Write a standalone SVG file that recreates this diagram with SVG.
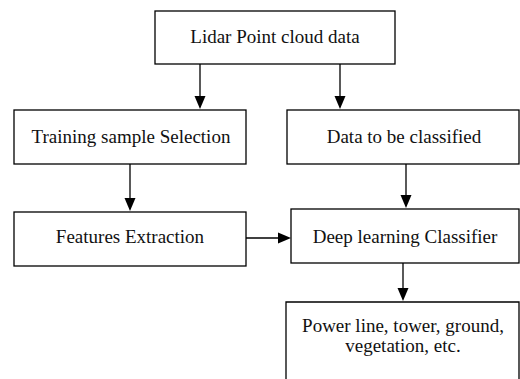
<svg xmlns="http://www.w3.org/2000/svg" width="520" height="379" viewBox="0 0 520 379">
<style>
.box{fill:#fff;stroke:#000;stroke-width:1.3}
.t{font-family:"Liberation Serif","Times New Roman",serif;font-size:19px;fill:#111;text-anchor:middle}
.c{stroke:#000;stroke-width:1.3;fill:none}
.ah{fill:#000}
</style>
<rect width="520" height="379" fill="#fff"/>
<g id="connectors">
<line class="c" x1="200" y1="64" x2="200" y2="97"/>
<polygon class="ah" points="194.5,96 205.5,96 200,109"/>
<line class="c" x1="340" y1="64" x2="340" y2="97"/>
<polygon class="ah" points="334.5,96 345.5,96 340,109"/>
<line class="c" x1="130" y1="164" x2="130" y2="199"/>
<polygon class="ah" points="124.5,198 135.5,198 130,211"/>
<line class="c" x1="406" y1="164" x2="406" y2="196"/>
<polygon class="ah" points="400.5,195 411.5,195 406,208"/>
<line class="c" x1="246" y1="238" x2="279" y2="238"/>
<polygon class="ah" points="278,232.5 278,243.5 291,238"/>
<line class="c" x1="403" y1="263" x2="403" y2="289"/>
<polygon class="ah" points="397.5,288 408.5,288 403,301"/>
</g>
<g id="lidar">
<rect class="box" x="155" y="11" width="240" height="53"/>
<text class="t" x="275" y="43">Lidar Point cloud data</text>
</g>
<g id="training">
<rect class="box" x="14" y="110" width="232" height="54"/>
<text class="t" x="131" y="143">Training sample Selection</text>
</g>
<g id="data">
<rect class="box" x="287" y="110" width="232" height="54"/>
<text class="t" x="404" y="143">Data to be classified</text>
</g>
<g id="features">
<rect class="box" x="14" y="212" width="232" height="54"/>
<text class="t" x="130" y="243">Features Extraction</text>
</g>
<g id="classifier">
<rect class="box" x="291" y="209" width="228" height="54"/>
<text class="t" x="405" y="243">Deep learning Classifier</text>
</g>
<g id="output">
<path class="c" d="M286,380 V302 H519 V380" style="fill:#fff"/>
<text class="t" x="403" y="332">Power line, tower, ground,</text>
<text class="t" x="403" y="352">vegetation, etc.</text>
</g>
</svg>
